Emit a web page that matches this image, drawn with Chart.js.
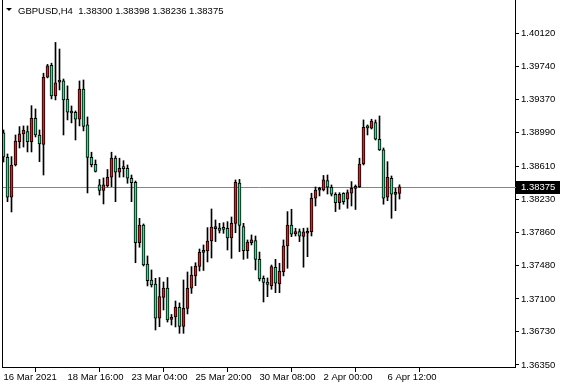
<!DOCTYPE html>
<html>
<head>
<meta charset="utf-8">
<script src="https://cdn.jsdelivr.net/npm/chart.js@4.4.1/dist/chart.umd.min.js"></script>
<style>
    html, body { margin: 0; padding: 0; background: #ffffff; }
    #wrap { width: 561px; height: 388px; position: relative; }
</style>
</head>
<body>
<div id="wrap"><canvas id="chart" width="561" height="388"></canvas></div>
<script>
// Datos del gráfico (GBPUSD, H4)
const symbol = 'GBPUSD,H4';

const opens = [1.38987,1.38711,1.38256,1.38623,1.38888,1.38976,1.39002,1.38888,1.39154,1.38964,
    1.38858,1.39620,1.39755,1.39408,1.39563,1.39578,1.39373,1.39225,1.39222,1.39143,
    1.39487,1.39078,1.38711,1.38631,1.38396,1.38333,1.38388,1.38484,1.38700,1.38540,
    1.38589,1.38585,1.38472,1.38427,1.37740,1.37941,1.37498,1.37316,1.37270,1.36881,
    1.37117,1.37225,1.36869,1.36895,1.37006,1.36787,1.36994,1.37222,1.37362,1.37469,
    1.37629,1.37646,1.37759,1.37899,1.37907,1.37901,1.37904,1.37793,1.37960,1.38416,
    1.37922,1.37649,1.37740,1.37765,1.37551,1.37335,1.37293,1.37251,1.37461,1.37270,
    1.37410,1.37703,1.37941,1.37839,1.37865,1.37810,1.37847,1.37865,1.38245,1.38336,
    1.38339,1.38445,1.38370,1.38290,1.38194,1.38302,1.38233,1.38302,1.38358,1.38377,
    1.38634,1.39055,1.39040,1.39104,1.38915,1.38794,1.38256,1.38472,1.38288,1.38300];

const highs = [1.39021,1.38748,1.38718,1.38964,1.39059,1.39067,1.39067,1.39297,1.39260,1.39021,
    1.39666,1.39766,1.39780,1.40016,1.39941,1.39600,1.39522,1.39294,1.39237,1.39578,
    1.39589,1.39169,1.38768,1.38680,1.38459,1.38476,1.38572,1.38768,1.38726,1.38700,
    1.38672,1.38623,1.38509,1.38441,1.38017,1.37953,1.37589,1.37430,1.37335,1.37344,
    1.37293,1.37344,1.36924,1.37077,1.37055,1.37316,1.37407,1.37468,1.37512,1.37668,
    1.37714,1.37911,1.38123,1.37998,1.37960,1.37967,1.37979,1.38032,1.38453,1.38459,
    1.37960,1.37771,1.37828,1.37816,1.37634,1.37362,1.37339,1.37486,1.37551,1.37506,
    1.37771,1.38093,1.38120,1.37904,1.37896,1.37904,1.37907,1.38302,1.38373,1.38370,
    1.38504,1.38509,1.38396,1.38308,1.38308,1.38308,1.38339,1.38434,1.38396,1.38700,
    1.39135,1.39078,1.39143,1.39135,1.39180,1.38816,1.38661,1.38498,1.38358,1.38398];

const lows = [1.38657,1.38206,1.38089,1.38612,1.38816,1.38827,1.38771,1.38771,1.38941,1.38661,
    1.38509,1.39612,1.39374,1.39362,1.39476,1.38964,1.39135,1.39101,1.38907,1.39067,
    1.39010,1.38305,1.38601,1.38543,1.38282,1.38180,1.38373,1.38377,1.38206,1.38484,
    1.38487,1.38415,1.38206,1.37512,1.37688,1.37475,1.37248,1.37236,1.36748,1.36785,
    1.36975,1.36838,1.36804,1.36782,1.36710,1.36710,1.36930,1.37163,1.37251,1.37418,
    1.37424,1.37521,1.37566,1.37752,1.37850,1.37846,1.37657,1.37562,1.37853,1.37638,
    1.37551,1.37562,1.37714,1.37430,1.37305,1.37066,1.37126,1.37210,1.37172,1.37172,
    1.37362,1.37449,1.37808,1.37816,1.37752,1.37461,1.37581,1.37816,1.38157,1.38271,
    1.38328,1.38293,1.38271,1.38093,1.38120,1.38177,1.38131,1.38157,1.38117,1.38368,
    1.38623,1.38964,1.39032,1.38907,1.38788,1.38177,1.38217,1.38017,1.38104,1.38236];

const closes = [1.38714,1.38256,1.38623,1.38896,1.38976,1.39021,1.38888,1.39154,1.38964,1.38862,
    1.39620,1.39749,1.39408,1.39558,1.39589,1.39362,1.39222,1.39214,1.39143,1.39487,
    1.39061,1.38709,1.38627,1.38551,1.38333,1.38396,1.38484,1.38700,1.38540,1.38585,
    1.38581,1.38472,1.38422,1.37740,1.37941,1.37486,1.37308,1.37259,1.36881,1.37126,
    1.37225,1.36861,1.36892,1.37009,1.36787,1.36994,1.37222,1.37373,1.37475,1.37631,
    1.37649,1.37759,1.37918,1.37913,1.37878,1.37892,1.37793,1.37960,1.38427,1.37935,
    1.37649,1.37748,1.37771,1.37551,1.37328,1.37288,1.37265,1.37468,1.37279,1.37418,
    1.37703,1.37941,1.37836,1.37865,1.37813,1.37862,1.37865,1.38245,1.38339,1.38343,
    1.38453,1.38370,1.38290,1.38194,1.38290,1.38206,1.38308,1.38358,1.38379,1.38634,
    1.39052,1.39044,1.39123,1.38915,1.38794,1.38245,1.38484,1.38290,1.38300,1.38375];

// Etiquetas de los ejes
const priceTicks = [1.40120, 1.39740, 1.39370, 1.38990, 1.38610, 1.38230, 1.37860, 1.37480, 1.37100, 1.36730, 1.36350];
const dateTickIndex = [0, 16, 32, 48, 64, 80, 96];
const dateTickLabels = ['16 Mar 2021', '18 Mar 16:00', '23 Mar 04:00', '25 Mar 20:00', '30 Mar 08:00', '2 Apr 00:00', '6 Apr 12:00'];

const bullColor = '#e01f1f';
const bearColor = '#2fe08d';
const fontFamily = '"Liberation Sans", Arial, sans-serif';
const fontSize = 9.5;

const lastIdx = closes.length - 1;
const lastClose = closes[lastIdx];

// Velas: cuerpo y mecha como barras flotantes
const bodyData = opens.map((o, i) => ({ x: i, y: [o, closes[i]] }));
const wickData = lows.map((l, i) => ({ x: i, y: [l, highs[i]] }));
const bodyColors = opens.map((o, i) => closes[i] > o ? bullColor : bearColor);

// Sin relleno extra: el área del gráfico ocupa todo el alto
function noPadding(scale) {
    scale.paddingTop = 0;
    scale.paddingBottom = 0;
    scale.paddingLeft = 0;
    scale.paddingRight = 0;
}

// Línea del precio actual (debajo de las velas)
const priceLinePlugin = {
    id: 'priceLine',
    beforeDatasetsDraw(chart) {
        const { ctx, chartArea, scales } = chart;
        const y = Math.round(scales.y.getPixelForValue(lastClose)) + 0.5;
        ctx.save();
        ctx.strokeStyle = '#7a8899';
        ctx.lineWidth = 1;
        ctx.beginPath();
        ctx.moveTo(chartArea.left, y);
        ctx.lineTo(chartArea.right + 2, y);
        ctx.stroke();
        ctx.restore();
    },
    afterDraw(chart) {
        const { ctx, chartArea, scales } = chart;
        ctx.save();
        // borde izquierdo
        ctx.strokeStyle = '#000';
        ctx.lineWidth = 1;
        ctx.beginPath();
        ctx.moveTo(chartArea.left + 0.5, 0);
        ctx.lineTo(chartArea.left + 0.5, chartArea.bottom);
        ctx.stroke();

        // etiqueta del último precio
        const y = Math.round(scales.y.getPixelForValue(lastClose));
        ctx.fillStyle = '#000';
        ctx.fillRect(chartArea.right + 1, y - 6, 44, 13);
        ctx.fillStyle = '#fff';
        ctx.font = fontSize + 'px ' + fontFamily;
        ctx.textBaseline = 'middle';
        ctx.textAlign = 'left';
        ctx.fillText(lastClose.toFixed(5), chartArea.right + 6, y + 0.5);

        // cabecera
        ctx.fillStyle = '#000';
        ctx.beginPath();
        ctx.moveTo(6, 8);
        ctx.lineTo(12, 8);
        ctx.lineTo(9, 11);
        ctx.closePath();
        ctx.fill();
        ctx.textBaseline = 'alphabetic';
        const header = symbol + '  ' + [opens[lastIdx], highs[lastIdx], lows[lastIdx], closes[lastIdx]]
            .map(v => v.toFixed(5)).join(' ');
        ctx.fillText(header, 18, 14);
        ctx.restore();
    }
};

const ctx = document.getElementById('chart').getContext('2d');
new Chart(ctx, {
    type: 'bar',
    data: {
        datasets: [
            {
                label: 'Cuerpo',
                data: bodyData,
                backgroundColor: bodyColors,
                borderColor: '#000',
                borderWidth: 1,
                borderSkipped: false,
                barThickness: 3,
                minBarLength: 2,
                grouped: false,
                order: 0
            },
            {
                label: 'Mecha',
                data: wickData,
                backgroundColor: '#000',
                borderWidth: 0,
                barThickness: 1,
                grouped: false,
                order: 1
            }
        ]
    },
    options: {
        responsive: false,
        animation: false,
        devicePixelRatio: 1,
        layout: { padding: { left: 2, top: 0, right: 0, bottom: 0 } },
        plugins: {
            legend: { display: false },
            tooltip: { enabled: false }
        },
        scales: {
            x: {
                type: 'linear',
                offset: false,
                min: -0.375,
                max: 127.875,
                grid: { display: true, drawOnChartArea: false, drawTicks: true, tickLength: 5, color: '#000', tickColor: '#000' },
                border: { display: true, color: '#000' },
                afterBuildTicks: (scale) => {
                    scale.ticks = dateTickIndex.map(v => ({ value: v }));
                },
                afterFit: (scale) => { scale.height = 21; noPadding(scale); },
                ticks: {
                    autoSkip: false,
                    maxRotation: 0,
                    align: 'start',
                    padding: 0,
                    color: '#000',
                    font: { family: fontFamily, size: fontSize },
                    callback: (value) => {
                        const k = dateTickIndex.indexOf(value);
                        return k >= 0 ? dateTickLabels[k] : '';
                    }
                }
            },
            y: {
                position: 'right',
                min: 1.36327,
                max: 1.40498,
                grid: { display: true, drawOnChartArea: false, drawTicks: true, tickLength: 4, color: '#000', tickColor: '#000' },
                border: { display: true, color: '#000' },
                afterBuildTicks: (scale) => {
                    scale.ticks = priceTicks.map(v => ({ value: v }));
                },
                afterFit: (scale) => { scale.width = 46; noPadding(scale); },
                ticks: {
                    padding: 2,
                    color: '#000',
                    font: { family: fontFamily, size: fontSize },
                    callback: (value) => value.toFixed(5)
                }
            }
        }
    },
    plugins: [priceLinePlugin]
});
</script>
</body>
</html>
